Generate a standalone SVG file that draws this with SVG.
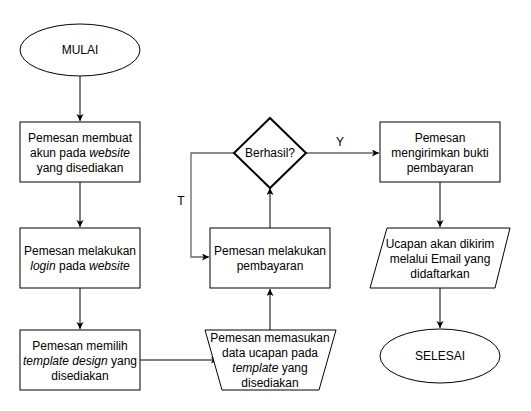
<svg xmlns="http://www.w3.org/2000/svg" width="531" height="411" viewBox="0 0 531 411">
<style>
.s{fill:#fff;stroke:#000;stroke-width:1}
.d{fill:#fff;stroke:#000;stroke-width:2}
.t{font-family:"Liberation Sans",Arial,sans-serif;font-size:12px;fill:#000;text-anchor:middle}
.e{fill:none;stroke:#000;stroke-width:1}
.g{fill:none;stroke:#666;stroke-width:1.3}
</style>
<defs>
<marker id="a" markerWidth="10" markerHeight="10" refX="7" refY="3.5" orient="auto" markerUnits="userSpaceOnUse">
<path d="M0,0 L7,3.5 L0,7 L1.75,3.5 Z" fill="#000"/>
</marker>
</defs>
<rect width="531" height="411" fill="#fff"/>
<g id="connectors">
<path class="e" d="M80,76 V121" marker-end="url(#a)"/>
<path class="e" d="M80,182 V227" marker-end="url(#a)"/>
<path class="e" d="M80,288 V329" marker-end="url(#a)"/>
<path class="e" d="M140,360 H218" marker-end="url(#a)"/>
<path class="e" d="M270,330 V289" marker-end="url(#a)"/>
<path class="e" d="M270,228 V188" marker-end="url(#a)"/>
<path class="g" d="M234,153 H191 V257 H209" marker-end="url(#a)"/>
<path class="g" d="M306,153 H379" marker-end="url(#a)"/>
<path class="e" d="M440,182 V227" marker-end="url(#a)"/>
<path class="e" d="M440,288 V328" marker-end="url(#a)"/>
<text class="t" x="181" y="205">T</text>
<text class="t" x="340" y="146">Y</text>
</g>
<g id="mulai">
<ellipse class="s" cx="80" cy="50" rx="60" ry="26"/>
<text class="t" x="80" y="54">MULAI</text>
</g>
<g id="buat-akun">
<rect class="s" x="20" y="122" width="120" height="60"/>
<text class="t" x="80" y="142">Pemesan membuat</text>
<text class="t" x="80" y="157">akun pada <tspan font-style="italic">website</tspan></text>
<text class="t" x="80" y="172">yang disediakan</text>
</g>
<g id="login">
<rect class="s" x="20" y="228" width="120" height="60"/>
<text class="t" x="80" y="255">Pemesan melakukan</text>
<text class="t" x="80" y="270"><tspan font-style="italic">login</tspan> pada <tspan font-style="italic">website</tspan></text>
</g>
<g id="pilih-template">
<rect class="s" x="20" y="330" width="120" height="60"/>
<text class="t" x="80" y="350">Pemesan memilih</text>
<text class="t" x="80" y="365"><tspan font-style="italic">template design</tspan> yang</text>
<text class="t" x="80" y="380">disediakan</text>
</g>
<g id="masukan-data">
<path class="s" d="M205,330 H336 L319,390 H222 Z"/>
<text class="t" x="270" y="342">Pemesan memasukan</text>
<text class="t" x="270" y="357">data ucapan pada</text>
<text class="t" x="270" y="372"><tspan font-style="italic">template</tspan> yang</text>
<text class="t" x="270" y="387">disediakan</text>
</g>
<g id="pembayaran">
<rect class="s" x="210" y="228" width="120" height="60"/>
<text class="t" x="270" y="255">Pemesan melakukan</text>
<text class="t" x="270" y="270">pembayaran</text>
</g>
<g id="berhasil">
<path class="d" d="M270,118 L306,153 L270,188 L234,153 Z"/>
<text class="t" x="270" y="157">Berhasil?</text>
</g>
<g id="kirim-bukti">
<rect class="s" x="380" y="122" width="120" height="60"/>
<text class="t" x="440" y="142">Pemesan</text>
<text class="t" x="440" y="157">mengirimkan bukti</text>
<text class="t" x="440" y="172">pembayaran</text>
</g>
<g id="ucapan-email">
<path class="s" d="M387,228 H510 L495,288 H370 Z"/>
<text class="t" x="440" y="248">Ucapan akan dikirim</text>
<text class="t" x="440" y="263">melalui Email yang</text>
<text class="t" x="440" y="278">didaftarkan</text>
</g>
<g id="selesai">
<ellipse class="s" cx="440" cy="356" rx="60" ry="27"/>
<text class="t" x="440" y="360">SELESAI</text>
</g>
</svg>
